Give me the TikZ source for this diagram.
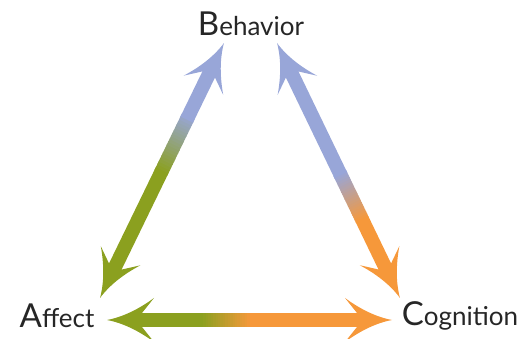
\documentclass[tikz,border=0pt]{standalone}
\usepackage{fontspec}
\setmainfont{Lato}
\usetikzlibrary{calc, decorations.markings}
\definecolor{behaviorblue}{RGB}{152,166,216}
\definecolor{affectgreen}{RGB}{139,160,31}
\definecolor{cognitionorange}{RGB}{246,152,58}

\tikzset{
  word/.style={font=\fontsize{26}{26}\selectfont, text=black!85, inner sep=0pt, anchor=base},
  shaft/.style={line width=14pt},
  headpath/.style={insert path={(0,0) .. controls (-16,3) and (-32,11) .. (-47,22) .. controls (-41,15) .. (-35,7) -- (-35,-7) .. controls (-41,-15) .. (-47,-22) .. controls (-32,-11) and (-16,-3) .. (0,0)}},
  tips/.style 2 args={decorate, decoration={markings,
      mark=at position 0 with {\fill[#1, rotate=180, headpath];},
      mark=at position 1 with {\fill[#2, headpath];}}}
}

\begin{document}
\begin{tikzpicture}[x=1pt, y=1pt]
    \useasboundingbox (0,0) rectangle (523,339);

    \node[word] (behavior) at (251,303) {{\fontsize{33}{33}\selectfont B}ehavior};
    \node[word] (affect) at (57,11) {{\fontsize{33}{33}\selectfont A}ffect};
    \node[word] (cognition) at (460,13) {{\fontsize{33}{33}\selectfont C}ognition};

    \coordinate (aff-t) at (100,41);
    \coordinate (beh-l) at (224,296);
    \coordinate (beh-r) at (277,296);
    \coordinate (cog-t) at (400,41);
    \coordinate (aff-r) at (107,19);
    \coordinate (cog-l) at (392,19);

    % affect - behavior
    \draw[shaft, affectgreen, shorten <=30pt] (aff-t) -- ($(aff-t)!0.5!(beh-l)$);
    \foreach \i [evaluate=\i as \p using {int(5*\i)}, evaluate=\i as \s using {0.49+0.011*\i}] in {0,...,19}
        \draw[shaft, behaviorblue!\p!affectgreen] ($(aff-t)!\s!(beh-l)$) -- ($(aff-t)!\s+0.014!(beh-l)$);
    \draw[shaft, behaviorblue, shorten >=30pt] ($(aff-t)!0.70!(beh-l)$) -- (beh-l);
    \path[tips={affectgreen}{behaviorblue}] (aff-t) -- (beh-l);

    % behavior - cognition
    \draw[shaft, behaviorblue, shorten <=30pt] (beh-r) -- ($(beh-r)!0.52!(cog-t)$);
    \foreach \i [evaluate=\i as \p using {int(5*\i)}, evaluate=\i as \s using {0.51+0.009*\i}] in {0,...,19}
        \draw[shaft, cognitionorange!\p!behaviorblue] ($(beh-r)!\s!(cog-t)$) -- ($(beh-r)!\s+0.012!(cog-t)$);
    \draw[shaft, cognitionorange, shorten >=30pt] ($(beh-r)!0.69!(cog-t)$) -- (cog-t);
    \path[tips={behaviorblue}{cognitionorange}] (beh-r) -- (cog-t);

    % affect - cognition
    \draw[shaft, affectgreen, shorten <=30pt] (aff-r) -- ($(aff-r)!0.34!(cog-l)$);
    \foreach \i [evaluate=\i as \p using {int(5*\i)}, evaluate=\i as \s using {0.33+0.0085*\i}] in {0,...,19}
        \draw[shaft, cognitionorange!\p!affectgreen] ($(aff-r)!\s!(cog-l)$) -- ($(aff-r)!\s+0.011!(cog-l)$);
    \draw[shaft, cognitionorange, shorten >=30pt] ($(aff-r)!0.50!(cog-l)$) -- (cog-l);
    \path[tips={affectgreen}{cognitionorange}] (aff-r) -- (cog-l);
\end{tikzpicture}
\end{document}
